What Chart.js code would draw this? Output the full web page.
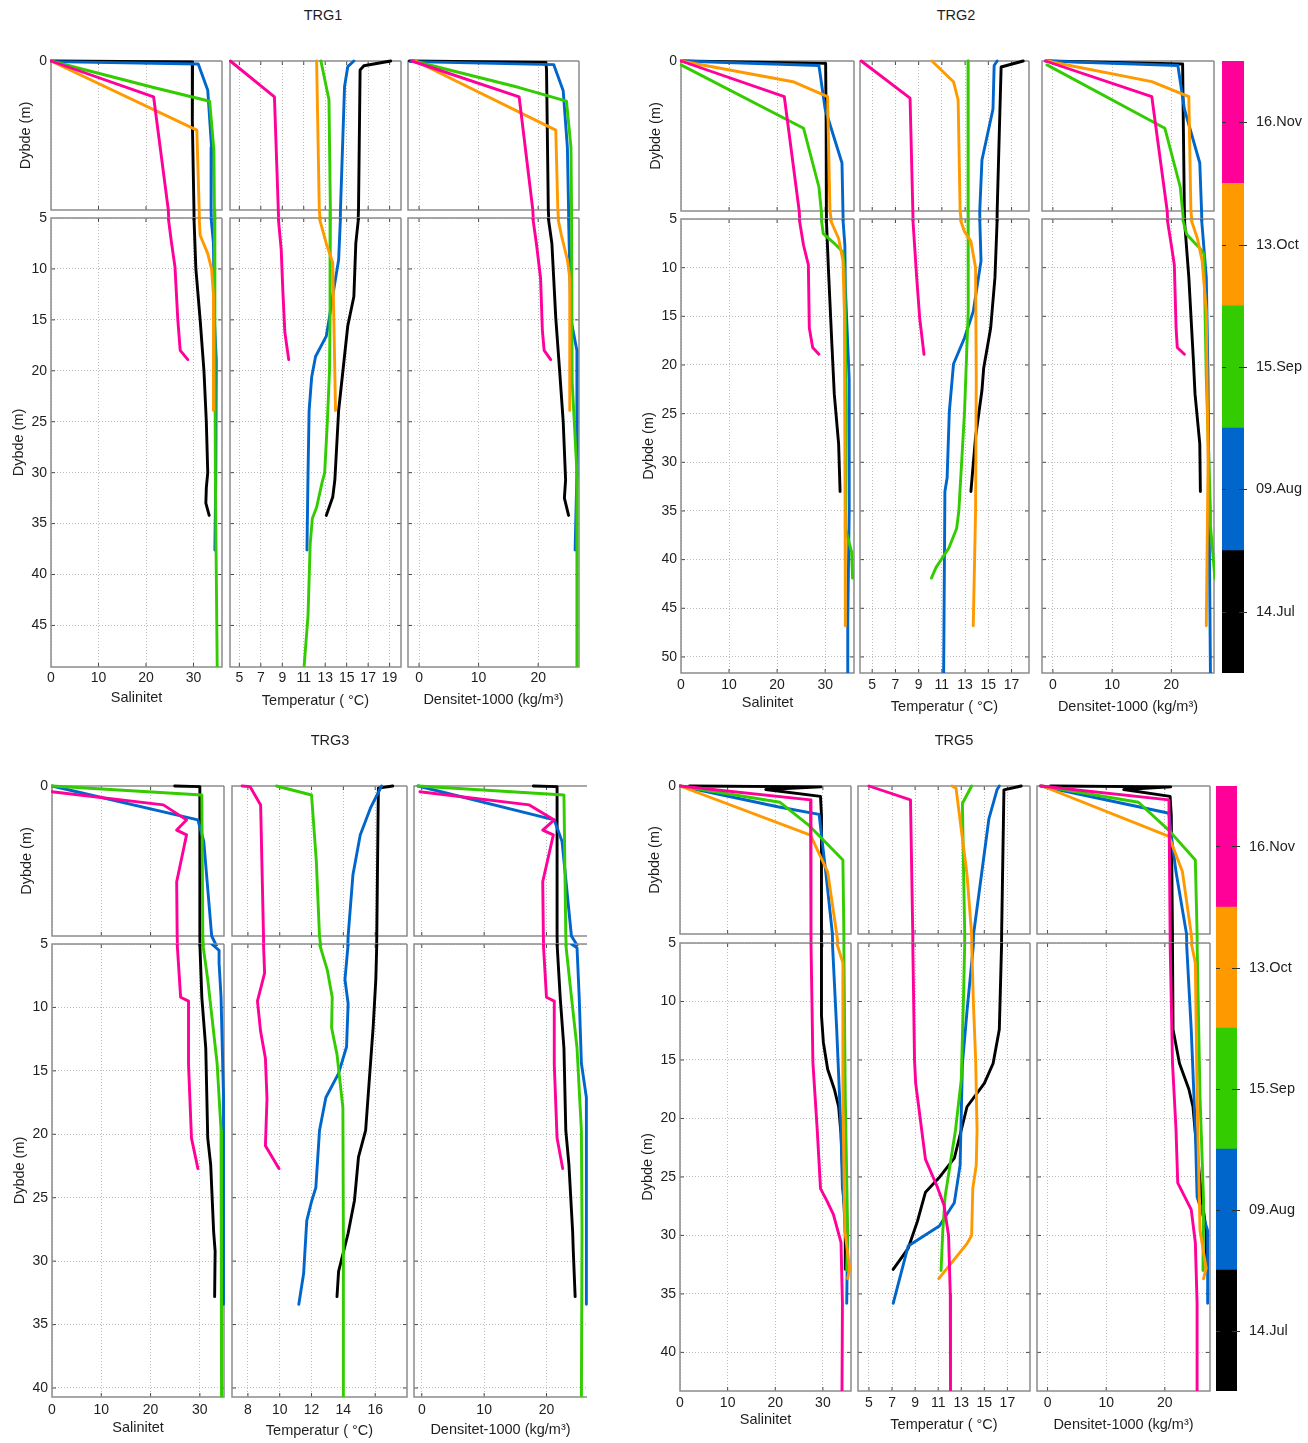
<!DOCTYPE html>
<html>
<head>
<meta charset="utf-8">
<title>CTD-profiler TRG1, TRG2, TRG3, TRG5</title>
<script src="https://cdn.jsdelivr.net/npm/chart.js@4.4.1/dist/chart.umd.min.js"></script>
<style>
  html, body { margin: 0; padding: 0; background: #fff; }
  #page { position: relative; width: 1308px; height: 1443px; overflow: hidden;
          font-family: "Liberation Sans", Arial, Helvetica, sans-serif; }
  #page canvas { position: absolute; }
  .stn { position: absolute; font-size: 14.5px; color: #1e1e1e; white-space: nowrap;
         transform: translate(-50%, -50%); }
</style>
</head>
<body>
<div id="page"></div>
<script>
// ---------------------------------------------------------------------------
// Survey dates and their colours (colour bar order: bottom -> top)
// ---------------------------------------------------------------------------
const DATES = ['14.Jul', '09.Aug', '15.Sep', '13.Oct', '16.Nov'];
const DATE_COLORS = ['#000000', '#0066cc', '#33cc00', '#ff9900', '#ff0099'];

// Tick values
const SAL_TICKS = [0, 10, 20, 30];
const DENS_TICKS = [0, 10, 20];
const SURFACE_TICKS = [0];
const TEMP_TICKS_TRG1 = [5, 7, 9, 11, 13, 15, 17, 19];
const TEMP_TICKS_TRG2 = [5, 7, 9, 11, 13, 15, 17];
const TEMP_TICKS_TRG3 = [8, 10, 12, 14, 16];
const TEMP_TICKS_TRG5 = [5, 7, 9, 11, 13, 15, 17];
const DEPTH_TICKS_TRG1 = [5, 10, 15, 20, 25, 30, 35, 40, 45];
const DEPTH_TICKS_TRG2 = [5, 10, 15, 20, 25, 30, 35, 40, 45, 50];
const DEPTH_TICKS_TRG3 = [5, 10, 15, 20, 25, 30, 35, 40];
const DEPTH_TICKS_TRG5 = [5, 10, 15, 20, 25, 30, 35, 40];

// ---------------------------------------------------------------------------
// Profiles: [value, depth (m)]
// ---------------------------------------------------------------------------
// TRG1 - salinity
const trg1SalJul = [[0,0],[29.8,0.03],[29.7,0.15],[29.8,2],[30.1,5],[30.5,10],[31.4,15],[32.2,20],[32.7,25],[33.0,30],[32.7,31.5],[32.6,33],[33.3,34.2]];
const trg1SalAug = [[0,0.02],[31.0,0.1],[33.0,0.98],[33.8,2.9],[33.7,5],[34.2,7.5],[34.4,15],[34.8,19],[34.7,30],[34.5,37.6]];
const trg1SalSep = [[0,0],[21.6,0.89],[33.4,1.35],[34.3,3],[34.4,5],[34.5,15],[34.6,30],[34.8,40],[35.0,49.5]];
const trg1SalOct = [[0,0],[30.7,2.32],[31.2,5],[31.4,6.7],[33.0,8.5],[33.8,10],[34.2,12.5],[34.2,23.9]];
const trg1SalNov = [[0,0],[21.6,1.2],[24.7,5],[25.3,7.2],[26.1,9.8],[26.7,15],[27.2,18],[28.8,18.9]];
// TRG1 - temperature
const trg1TempJul = [[19.1,0],[16.6,0.16],[16.25,0.3],[16.1,5],[15.85,7.5],[15.67,12.7],[15.1,15.6],[14.25,23.9],[13.9,30.7],[13.7,32.4],[13.1,34.2]];
const trg1TempAug = [[15.67,0],[15.1,0.19],[14.8,0.86],[14.42,5],[14.25,9.1],[13.8,12],[13.35,15],[13.1,16.6],[12.1,18.6],[11.74,20.6],[11.5,23.9],[11.4,30],[11.3,37.6]];
const trg1TempSep = [[12.6,0],[13.35,1.3],[13.48,5],[13.45,15],[13.4,20],[13.2,25],[12.95,30],[12.7,31],[12.2,33.4],[11.8,34.5],[11.6,37],[11.4,44],[11.0,49.5]];
const trg1TempOct = [[12.2,0],[12.45,5],[13.1,7.5],[13.7,9.4],[13.8,14.7],[13.96,23.9]];
const trg1TempNov = [[4.16,0],[8.27,1.2],[8.63,5],[8.9,8.1],[9.06,12.3],[9.24,16.2],[9.6,18.9]];
// TRG1 - density (sigma)
const trg1DensJul = [[-1.6,0],[21.3,0.05],[21.4,0.3],[21.7,5],[22.3,7.5],[22.95,14.8],[23.6,20],[24.2,25],[24.6,30.7],[24.4,32.5],[25.1,34.2]];
const trg1DensAug = [[-1.4,0.02],[22.6,0.12],[24.2,1],[24.9,2.9],[25.1,5],[25.5,15],[26.5,18],[26.5,30],[26.2,37.6]];
const trg1DensSep = [[-0.9,0],[16.8,0.89],[24.75,1.35],[25.5,2.9],[25.6,5],[25.7,21],[26.5,30],[26.5,49.5]];
const trg1DensOct = [[-0.6,0],[22.95,2.32],[23.3,5],[23.9,6.7],[24.9,9.1],[25.3,10.9],[25.3,23.9]];
const trg1DensNov = [[-1.2,0],[16.8,1.2],[19.1,5],[19.7,7.5],[20.4,10.9],[20.7,16],[21.0,18],[22.1,18.9]];

// TRG2 - salinity
const trg2SalJul = [[0.5,0],[30.1,0.08],[30.2,2],[30.25,5],[30.7,10.4],[31.4,17.9],[31.9,23],[32.8,28.1],[33.1,33]];
const trg2SalAug = [[0,0],[28.7,0.15],[30.0,1.6],[33.5,3.4],[33.7,5],[34.1,7.7],[34.2,12],[35.0,21.5],[35.0,35],[34.7,46.6],[34.7,52]];
const trg2SalSep = [[0,0.13],[25.5,2.24],[28.7,4.2],[29.2,5],[29.6,6.5],[31.9,7.5],[33.7,8.4],[34.1,11],[34.4,25],[34.2,36.8],[35.5,39.2],[35.7,41.9]];
const trg2SalOct = [[0,0],[23.3,0.69],[30.5,1.19],[31.0,5],[32.8,7],[33.7,9.3],[34.0,14.5],[34.15,35],[34.2,46.8]];
const trg2SalNov = [[0,0],[21.5,1.19],[24.6,5],[25.5,7.7],[26.5,9.7],[26.7,16.2],[27.4,18.2],[28.7,18.9]];
// TRG2 - temperature
const trg2TempJul = [[18.0,0],[16.1,0.2],[15.95,2.3],[15.76,5],[15.57,11],[15.2,16.2],[14.6,20.3],[14.45,22.6],[13.9,27.4],[13.5,33]];
const trg2TempAug = [[15.76,0],[15.5,0.15],[15.4,1.6],[14.45,3.3],[14.26,5],[14.37,9.3],[13.7,14.5],[12.95,17.2],[12.0,19.9],[11.64,24.8],[11.45,31.6],[11.26,33],[11.15,52]];
const trg2TempSep = [[13.25,0],[13.25,5],[13.3,8],[13.25,14.5],[12.95,24.8],[12.46,35],[12.27,36.8],[11.6,38.8],[10.5,40.8],[10.1,41.9]];
const trg2TempOct = [[10.14,0],[12.0,0.69],[12.4,1.3],[12.57,5],[12.95,6.3],[13.5,7.3],[13.9,10],[13.96,21.3],[13.9,35],[13.7,46.8]];
const trg2TempNov = [[4.06,0],[8.26,1.24],[8.5,5],[8.83,11],[9.09,15.2],[9.46,18.9]];
// TRG2 - density
const trg2DensJul = [[-1.0,0],[21.9,0.1],[22.2,5],[22.95,11],[23.7,19.3],[24.0,23],[24.8,28.1],[24.9,33]];
const trg2DensAug = [[-1.25,0],[21.1,0.15],[22.2,1.6],[24.8,3.4],[25.1,5],[25.9,11],[26.2,21.5],[26.6,52]];
const trg2DensSep = [[-1.0,0.13],[18.9,2.24],[21.5,4.2],[21.9,5],[22.6,6.6],[24.8,8],[25.5,8.6],[25.9,21.3],[26.6,35],[26.6,36.5],[27.35,41.9]];
const trg2DensOct = [[-1.0,0],[16.7,0.69],[22.95,1.19],[23.3,5],[24.4,7],[25.2,9.3],[25.9,14.5],[26.2,30],[25.9,46.8]];
const trg2DensNov = [[-1.25,0],[16.7,1.19],[19.3,5],[20.0,7.7],[20.5,9.7],[20.8,16.2],[21.0,18.2],[22.2,18.9]];

// TRG3 - salinity (no October cast)
const trg3SalJul = [[24.9,0],[30.0,0.02],[30.0,5],[30.4,9.2],[31.2,13.2],[31.6,20.3],[32.2,22.4],[32.8,27.7],[33.1,29.2],[33.0,32.8]];
const trg3SalAug = [[0,0],[29.6,1.13],[30.8,1.85],[32.4,5],[33.9,5.5],[33.9,6.5],[34.3,9.2],[34.8,17],[34.8,33.4]];
const trg3SalSep = [[0,0],[30.4,0.3],[30.6,5],[31.6,7.8],[33.5,14.4],[34.3,19.7],[34.4,27.6],[34.4,41]];
const trg3SalNov = [[0,0.19],[22.6,0.63],[27.3,1.13],[25.3,1.47],[27.3,1.63],[25.3,3.19],[25.4,5],[26.1,9.2],[27.7,9.5],[27.7,14.5],[28.3,20.3],[29.6,22.7]];
// TRG3 - temperature
const trg3TempJul = [[17.1,0],[16.2,0.07],[16.1,5],[16.04,7.8],[15.87,11.6],[15.55,17.1],[15.4,19.7],[14.95,21.8],[14.7,25.2],[14.3,27.8],[13.7,30.8],[13.6,32.8]];
const trg3TempAug = [[16.4,0],[15.7,0.74],[15.06,1.63],[14.6,2.97],[14.3,5],[14.1,7.8],[14.3,9.7],[14.2,13.1],[13.7,15.2],[12.9,17.1],[12.5,19.7],[12.27,24.2],[12.0,25.3],[11.7,26.8],[11.5,31],[11.2,33.4]];
const trg3TempSep = [[9.8,0],[12.0,0.3],[12.3,2.5],[12.5,5],[13.0,7.1],[13.3,9.2],[13.26,11.6],[13.6,13.7],[13.97,17.9],[14.0,27.7],[14.0,41]];
const trg3TempNov = [[7.64,0],[8.13,0.02],[8.8,0.63],[8.98,5],[9.05,7.3],[8.6,9.5],[8.8,11.9],[9.1,14],[9.2,17.2],[9.1,20.9],[9.95,22.7]];
// TRG3 - density
const trg3DensJul = [[17.9,0],[21.7,0.02],[21.7,5],[22.2,9.2],[22.8,13.2],[23.1,19.7],[23.6,22.4],[24.2,27.7],[24.3,29.2],[24.6,32.8]];
const trg3DensAug = [[-0.6,0],[21.25,1.13],[22.5,1.85],[24.0,5],[24.9,5.3],[25.25,9.2],[25.6,14.4],[26.4,17.1],[26.4,33.4]];
const trg3DensSep = [[-0.6,0],[22.8,0.3],[23.1,5],[23.7,7.8],[24.9,13.2],[25.6,19.7],[25.7,27.7],[25.6,41]];
const trg3DensNov = [[-0.3,0.19],[17.25,0.63],[21.25,1.13],[19.4,1.47],[21.1,1.63],[19.4,3.19],[19.5,5],[20.0,9.2],[21.25,9.5],[21.25,14.5],[21.7,20.3],[22.6,22.7]];

// TRG5 - salinity
const trg5SalJul = [[2,0],[29.6,0.03],[18,0.12],[29.5,0.35],[29.7,1],[29.7,11.2],[30.1,13.5],[31.0,15.8],[32.4,17.5],[33.3,19],[33.8,21.3],[34.7,29.9],[34.7,32.9]];
const trg5SalAug = [[0,0],[20.5,0.7],[29.2,0.96],[29.7,1.66],[30.6,2.9],[32.0,5],[32.9,12.4],[33.8,21],[34.1,26],[35.2,29.6],[35.0,35.8]];
const trg5SalSep = [[0,0],[21.0,0.55],[27.0,1.32],[34.2,2.5],[34.4,5],[34.7,18.2],[35.2,29.6],[35.0,33]];
const trg5SalOct = [[0,0],[27.4,1.66],[31.0,2.9],[32.9,5],[34.2,6.7],[34.2,18.2],[34.6,29.6],[35.6,32.8],[35.2,33.7]];
const trg5SalNov = [[0,0],[27.4,0.47],[27.5,5],[27.7,10],[27.9,15.2],[28.8,20.9],[29.5,26],[30.8,27],[32.2,28.2],[33.8,30.6],[34.1,35.8],[34.0,44]];
// TRG5 - temperature
const trg5TempJul = [[18.2,0],[16.7,0.13],[16.5,5],[16.3,12.4],[15.76,15.3],[15.0,17],[13.5,19],[12.4,23.4],[11.05,25.1],[9.9,26.3],[9.2,28.8],[8.4,31.1],[7.1,32.9]];
const trg5TempAug = [[16.3,0],[16.1,0.13],[15.4,1.1],[14.07,5],[13.5,10.8],[13.1,15.4],[12.9,24],[12.4,27.2],[11.1,29.2],[8.4,30.9],[7.1,35.8]];
const trg5TempSep = [[13.9,0],[13.1,0.59],[13.3,5],[13.2,9.5],[13.0,16.7],[12.5,21],[11.6,26.7],[11.4,29.6],[11.25,33]];
const trg5TempOct = [[12.2,0],[12.55,0.08],[13.5,3],[13.9,5],[14.05,10],[14.25,15],[14.37,21],[14.3,24],[14.0,26],[13.9,30],[13.5,30.7],[11.05,33.7]];
const trg5TempNov = [[5.0,0],[8.6,0.47],[8.8,5],[8.95,15],[9.05,17],[9.9,23.5],[10.9,25.8],[11.5,27.4],[11.9,30],[12.05,35],[12.07,44]];
// TRG5 - density
const trg5DensJul = [[0.5,0],[21.0,0.03],[13.0,0.12],[20.9,0.35],[21.1,1],[21.3,5],[21.4,12.4],[22.5,15.3],[24.1,17.5],[24.8,19],[25.2,21.3],[26.3,26.8],[27.05,29.6],[27.05,32.9]];
const trg5DensAug = [[-1.2,0],[15.5,0.7],[20.7,0.92],[21.1,1.66],[21.9,2.9],[23.7,5],[24.5,12.4],[25.2,21],[25.5,26.7],[27.3,29.6],[27.3,35.8]];
const trg5DensSep = [[-0.9,0],[15.5,0.55],[20.7,1.5],[25.2,2.5],[25.5,5],[26.0,18.2],[26.6,27],[26.5,33]];
const trg5DensOct = [[-0.9,0],[20.7,1.7],[23.0,2.9],[24.5,5],[25.2,6.7],[25.5,18],[26.0,29.6],[27.05,32.8],[26.6,33.7]];
const trg5DensNov = [[-1.2,0],[20.7,0.47],[20.9,5],[21.1,10],[21.3,15.2],[21.9,20.9],[22.2,25.5],[24.5,27.8],[25.2,30.6],[25.5,35.8],[25.5,44]];

// ---------------------------------------------------------------------------
// Station panels: axis ranges and page placement
// cols: [left, right] of salinity / temperature / density boxes
// up / low: [top, bottom] of the 0-5 m and the 5 m-bottom boxes
// ---------------------------------------------------------------------------
const STATIONS = [
  { name: 'TRG1', titleAt: [323, 15],
    cols: [[51, 222], [229.6, 401], [408, 579]], up: [61, 209.5], low: [218, 667.3],
    salRange: [0, 36], tempRange: [4.13, 20.06], densRange: [-1.85, 26.85], depthMax: 49.08,
    tempTicks: TEMP_TICKS_TRG1, depthTicks: DEPTH_TICKS_TRG1,
    sal: [trg1SalJul, trg1SalAug, trg1SalSep, trg1SalOct, trg1SalNov],
    temp: [trg1TempJul, trg1TempAug, trg1TempSep, trg1TempOct, trg1TempNov],
    dens: [trg1DensJul, trg1DensAug, trg1DensSep, trg1DensOct, trg1DensNov],
    xPad: 3, titlePads: [6.3, 2.9, 3.9], cbar: null, densNoRight: false },
  { name: 'TRG2', titleAt: [956, 15],
    cols: [[681.3, 854], [860.4, 1029], [1041.7, 1214]], up: [61, 210.5], low: [219, 672.7],
    salRange: [0, 36], tempRange: [3.95, 18.5], densRange: [-1.84, 27.2], depthMax: 51.65,
    tempTicks: TEMP_TICKS_TRG2, depthTicks: DEPTH_TICKS_TRG2,
    sal: [trg2SalJul, trg2SalAug, trg2SalSep, trg2SalOct, trg2SalNov],
    temp: [trg2TempJul, trg2TempAug, trg2TempSep, trg2TempOct, trg2TempNov],
    dens: [trg2DensJul, trg2DensAug, trg2DensSep, trg2DensOct, trg2DensNov],
    xPad: 4, titlePads: [7.3, 3.3, 3.3], cbar: [1222, 1244, 61, 672.7], densNoRight: false },
  { name: 'TRG3', titleAt: [330, 740],
    cols: [[52, 224], [232, 407], [413.5, 586.5]], up: [786, 936], low: [943.5, 1396.7],
    salRange: [0, 34.9], tempRange: [7.0, 18.0], densRange: [-1.25, 26.5], depthMax: 40.71,
    tempTicks: TEMP_TICKS_TRG3, depthTicks: DEPTH_TICKS_TRG3,
    sal: [trg3SalJul, trg3SalAug, trg3SalSep, null, trg3SalNov],
    temp: [trg3TempJul, trg3TempAug, trg3TempSep, null, trg3TempNov],
    dens: [trg3DensJul, trg3DensAug, trg3DensSep, null, trg3DensNov],
    xPad: 5, titlePads: [6.3, 3.3, 4.0], cbar: null, densNoRight: true },
  { name: 'TRG5', titleAt: [954, 740],
    cols: [[680, 851], [858, 1030], [1037.4, 1209.6]], up: [786, 934], low: [942.5, 1391],
    salRange: [0, 35.9], tempRange: [4.05, 18.96], densRange: [-1.8, 27.7], depthMax: 43.3,
    tempTicks: TEMP_TICKS_TRG5, depthTicks: DEPTH_TICKS_TRG5,
    sal: [trg5SalJul, trg5SalAug, trg5SalSep, trg5SalOct, trg5SalNov],
    temp: [trg5TempJul, trg5TempAug, trg5TempSep, trg5TempOct, trg5TempNov],
    dens: [trg5DensJul, trg5DensAug, trg5DensSep, trg5DensOct, trg5DensNov],
    xPad: 3.6, titlePads: [8.3, 3.3, 3.3], cbar: [1216, 1237.4, 786, 1391], densNoRight: false }
];

const X_TITLES = ['Salinitet', 'Temperatur ( \u00B0C)', 'Densitet-1000 (kg/m\u00B3)'];
const Y_TITLE = 'Dybde (m)';

// ---------------------------------------------------------------------------
// Styling
// ---------------------------------------------------------------------------
const FONT_FAMILY = '"Liberation Sans", Arial, Helvetica, sans-serif';
const TEXT_COLOR = '#1e1e1e';
const GRID_COLOR = '#bdbdbd';
const FRAME_COLOR = '#8c8c8c';
const TICK_MARK_COLOR = '#4a4a4a';
const LINE_WIDTH = 2.9;
const TICK_FONT = { family: FONT_FAMILY, size: 14 };
const LABEL_FONT = { family: FONT_FAMILY, size: 14.5 };

Chart.defaults.font.family = FONT_FAMILY;
Chart.defaults.color = TEXT_COLOR;

const page = document.getElementById('page');

// Box around each axes plus short inward tick marks
const framePlugin = {
  id: 'frame',
  beforeDatasetsDraw(chart, _args, opts) {
    const a = chart.chartArea, ctx = chart.ctx;
    const xs = chart.scales.x, ys = chart.scales.y;
    const len = 4;
    ctx.save();
    ctx.lineWidth = 1;
    ctx.strokeStyle = TICK_MARK_COLOR;
    ctx.beginPath();
    for (const t of xs.ticks) {
      const p = xs.getPixelForValue(t.value);
      if (p <= a.left + 1 || p >= a.right - 1) continue;
      ctx.moveTo(p, a.bottom); ctx.lineTo(p, a.bottom - len);
      ctx.moveTo(p, a.top); ctx.lineTo(p, a.top + len);
    }
    for (const t of ys.ticks) {
      const p = ys.getPixelForValue(t.value);
      if (p <= a.top + 1 || p >= a.bottom - 1) continue;
      ctx.moveTo(a.left, p); ctx.lineTo(a.left + len, p);
      if (!opts.noRight) { ctx.moveTo(a.right, p); ctx.lineTo(a.right - len, p); }
    }
    ctx.stroke();
    ctx.lineWidth = 1.5;
    ctx.strokeStyle = FRAME_COLOR;
    ctx.beginPath();
    ctx.moveTo(a.right, a.top);
    ctx.lineTo(a.left, a.top);
    ctx.lineTo(a.left, a.bottom);
    ctx.lineTo(a.right, a.bottom);
    if (!opts.noRight) ctx.lineTo(a.right, a.top);
    ctx.stroke();
    ctx.restore();
  }
};

// Short tick marks on the colour bar at each date label
const cbarTickPlugin = {
  id: 'cbarTicks',
  afterDatasetsDraw(chart) {
    const a = chart.chartArea, ctx = chart.ctx, ys = chart.scales.y;
    ctx.save();
    ctx.lineWidth = 1;
    ctx.strokeStyle = '#333';
    ctx.beginPath();
    for (const t of ys.ticks) {
      const p = Math.round(ys.getPixelForValue(t.value)) + 0.5;
      ctx.moveTo(a.right - 5, p); ctx.lineTo(a.right + 3, p);
      ctx.moveTo(a.left, p); ctx.lineTo(a.left + 4, p);
    }
    ctx.stroke();
    ctx.restore();
  }
};

function makeCanvas(left, top, w, h) {
  const cv = document.createElement('canvas');
  cv.width = w; cv.height = h;
  cv.style.left = left + 'px';
  cv.style.top = top + 'px';
  page.appendChild(cv);
  return cv;
}

// One depth-profile axes (either the 0-5 m strip or the deeper part)
function profileChart(box, o) {
  const pl = 4, mt = 12, mr = 6;
  const pb = o.upper ? 11 : 2;
  const yw = o.yLabels ? 41 : 0;
  const xh = o.xLabels ? 46 : 0;
  const L = Math.round(box[0]), R = Math.round(box[1]), T = Math.round(box[2]), B = Math.round(box[3]);
  const cv = makeCanvas(L - pl - yw, T - mt, R - L + pl + yw + mr, B - T + mt + xh + pb);

  const datasets = [];
  for (let i = o.profiles.length - 1; i >= 0; i--) {
    const prof = o.profiles[i];
    if (!prof) continue;
    datasets.push({
      label: DATES[i],
      data: prof.map(p => ({ x: p[0], y: p[1] })),
      borderColor: DATE_COLORS[i],
      borderWidth: LINE_WIDTH,
      showLine: true,
      pointRadius: 0,
      tension: 0,
      borderJoinStyle: 'round',
      borderCapStyle: 'round',
      clip: o.upper ? { left: 1, right: 1, top: 2, bottom: pb - 1 } : { left: 1, right: 1, top: 0, bottom: 0 }
    });
  }

  return new Chart(cv, {
    type: 'scatter',
    data: { datasets },
    options: {
      responsive: false,
      animation: false,
      events: [],
      devicePixelRatio: 1,
      layout: { autoPadding: false, padding: { left: pl, top: mt, right: mr, bottom: pb } },
      plugins: { legend: { display: false }, tooltip: { enabled: false }, frame: { noRight: !!o.noRight } },
      scales: {
        x: {
          type: 'linear', position: 'bottom', min: o.xRange[0], max: o.xRange[1],
          afterBuildTicks: s => { s.ticks = o.xTicks.map(v => ({ value: v })); },
          afterFit: s => { s.height = xh; s.paddingLeft = 0; s.paddingRight = 0; s.paddingTop = 0; s.paddingBottom = 0; },
          grid: { color: GRID_COLOR, lineWidth: 1, drawTicks: false },
          border: { display: false, dash: [1, 2] },
          ticks: { display: !!o.xLabels, padding: o.xPad, autoSkip: false, maxRotation: 0, minRotation: 0,
                   font: TICK_FONT, color: TEXT_COLOR, callback: v => String(v) },
          title: { display: !!o.xTitle, text: o.xTitle || '', font: LABEL_FONT, color: TEXT_COLOR,
                   padding: { top: 0, bottom: o.xTitlePad || 0 } }
        },
        y: {
          type: 'linear', position: 'left', reverse: true, min: o.yRange[0], max: o.yRange[1],
          afterBuildTicks: s => { s.ticks = o.yTicks.map(v => ({ value: v })); },
          afterFit: s => { s.width = yw; s.paddingLeft = 0; s.paddingRight = 0; s.paddingTop = 0; s.paddingBottom = 0; },
          grid: { display: !o.upper, color: GRID_COLOR, lineWidth: 1, drawTicks: false },
          border: { display: false, dash: [1, 2] },
          ticks: { display: !!o.yLabels, padding: 4, autoSkip: false, font: TICK_FONT, color: TEXT_COLOR,
                   callback: v => String(v) },
          title: { display: !!o.yLabels, text: Y_TITLE, font: LABEL_FONT, color: TEXT_COLOR,
                   padding: { top: o.yTitlePad || 0, bottom: 0 } }
        }
      }
    },
    plugins: [framePlugin]
  });
}

// Colour bar with the survey dates
function colorbarChart(box) {
  const L = Math.round(box[0]), R = Math.round(box[1]), T = Math.round(box[2]), B = Math.round(box[3]);
  const pl = 2, mt = 10, pb = 10, yw = 62;
  const cv = makeCanvas(L - pl, T - mt, R - L + pl + yw, B - T + mt + pb);
  return new Chart(cv, {
    type: 'bar',
    data: {
      labels: [''],
      datasets: DATES.map((d, i) => ({
        label: d, data: [1], backgroundColor: DATE_COLORS[i],
        borderWidth: 0, barPercentage: 1, categoryPercentage: 1
      }))
    },
    options: {
      responsive: false,
      animation: false,
      events: [],
      devicePixelRatio: 1,
      layout: { autoPadding: false, padding: { left: pl, top: mt, right: 0, bottom: pb } },
      plugins: { legend: { display: false }, tooltip: { enabled: false } },
      scales: {
        x: { stacked: true, display: false },
        y: {
          stacked: true, position: 'right', min: 0, max: DATES.length,
          afterBuildTicks: s => { s.ticks = DATES.map((d, i) => ({ value: i + 0.5 })); },
          afterFit: s => { s.width = yw; s.paddingTop = 0; s.paddingBottom = 0; },
          grid: { display: false },
          border: { display: false },
          ticks: { padding: 4, autoSkip: false, font: LABEL_FONT, color: TEXT_COLOR,
                   callback: (v, i) => DATES[i] }
        }
      }
    },
    plugins: [cbarTickPlugin]
  });
}

// ---------------------------------------------------------------------------
// Build all four stations
// ---------------------------------------------------------------------------
STATIONS.forEach(st => {
  const t = document.createElement('div');
  t.className = 'stn';
  t.textContent = st.name;
  t.style.left = st.titleAt[0] + 'px';
  t.style.top = st.titleAt[1] + 'px';
  page.appendChild(t);

  const vars = [
    { profiles: st.sal, range: st.salRange, ticks: SAL_TICKS },
    { profiles: st.temp, range: st.tempRange, ticks: st.tempTicks },
    { profiles: st.dens, range: st.densRange, ticks: DENS_TICKS }
  ];

  vars.forEach((v, c) => {
    const col = st.cols[c];
    const noRight = (c === 2 && st.densNoRight);
    // 0-5 m
    profileChart([col[0], col[1], st.up[0], st.up[1]], {
      upper: true, profiles: v.profiles, xRange: v.range, xTicks: v.ticks,
      yRange: [0, 5], yTicks: SURFACE_TICKS, yLabels: c === 0, yTitlePad: 7.3, noRight
    });
    // 5 m - bottom
    profileChart([col[0], col[1], st.low[0], st.low[1]], {
      upper: false, profiles: v.profiles, xRange: v.range, xTicks: v.ticks,
      yRange: [5, st.depthMax], yTicks: st.depthTicks, yLabels: c === 0, yTitlePad: 0,
      xLabels: true, xPad: st.xPad, xTitle: X_TITLES[c], xTitlePad: st.titlePads[c], noRight
    });
  });

  if (st.cbar) colorbarChart(st.cbar);
});
</script>
</body>
</html>
